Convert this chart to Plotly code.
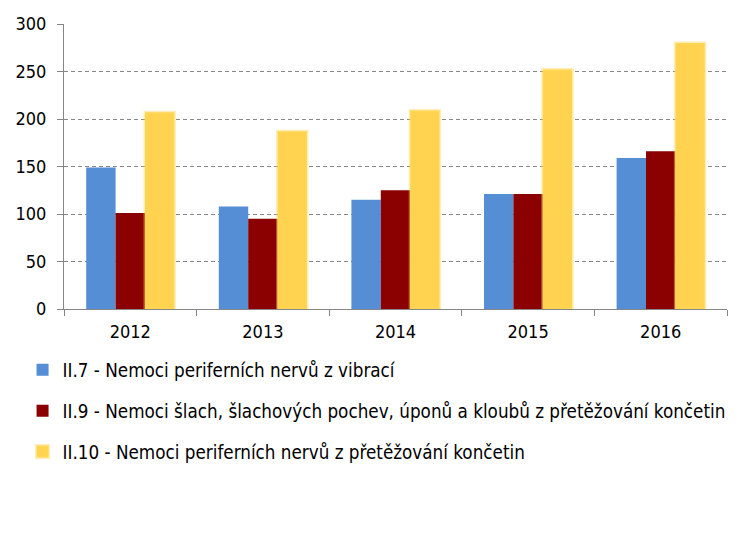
import plotly.graph_objects as go

years = ["2012", "2013", "2014", "2015", "2016"]
s_ii7 = [149, 108, 115, 121, 159]
s_ii9 = [101, 95, 125, 121, 166]
s_ii10 = [207, 187, 209, 252, 280]

names = [
    "II.7 - Nemoci periferních nervů z vibrací",
    "II.9 - Nemoci šlach, šlachových pochev, úponů a kloubů z přetěžování končetin",
    "II.10 - Nemoci periferních nervů z přetěžování končetin",
]
colors = ["#558ED5", "#8B0000", "#FFD34F"]
series = [s_ii7, s_ii9, s_ii10]

FONT = "DejaVu Sans Condensed, Liberation Sans Narrow, Liberation Sans, sans-serif"

fig = go.Figure()
for i, (nm, vals, col) in enumerate(zip(names, series, colors)):
    line = dict(width=0)
    if i == 2:
        line = dict(color="rgba(255,215,90,0.45)", width=3)
    fig.add_trace(go.Bar(
        x=years, y=vals, name=nm, legendgroup=str(i),
        marker=dict(color=col, line=line),
    ))

fig.update_layout(
    width=750, height=534,
    margin=dict(l=64, r=23, t=24, b=225),
    paper_bgcolor="white", plot_bgcolor="white",
    barmode="group", bargap=0.335, bargroupgap=0,
    font=dict(family=FONT, size=18, color="#000000"),
    showlegend=True,
    legend=dict(
        orientation="v", x=-0.0625, xanchor="left", y=-0.148, yanchor="top",
        traceorder="grouped", tracegroupgap=13.5,
        font=dict(family=FONT, size=18.7, color="#000000"),
        bgcolor="rgba(0,0,0,0)",
    ),
)
fig.update_xaxes(
    type="category", showline=True, linecolor="#868686", linewidth=1,
    ticks="outside", tickson="boundaries", ticklen=6, tickcolor="#868686",
    showgrid=False, tickfont=dict(size=18), ticklabelstandoff=6,
)
fig.update_yaxes(
    range=[0, 300], dtick=50, showline=True, linecolor="#868686", linewidth=1,
    ticks="outside", ticklen=6, tickcolor="#868686",
    showgrid=True, gridcolor="#868686", griddash="4px,3px", gridwidth=1,
    zeroline=False, tickfont=dict(size=18), ticklabelstandoff=7,
)

fig.write_html(
    "out.html",
    config={"displayModeBar": False},
    post_script="document.body.style.margin='0';document.body.style.overflow='hidden';",
)
